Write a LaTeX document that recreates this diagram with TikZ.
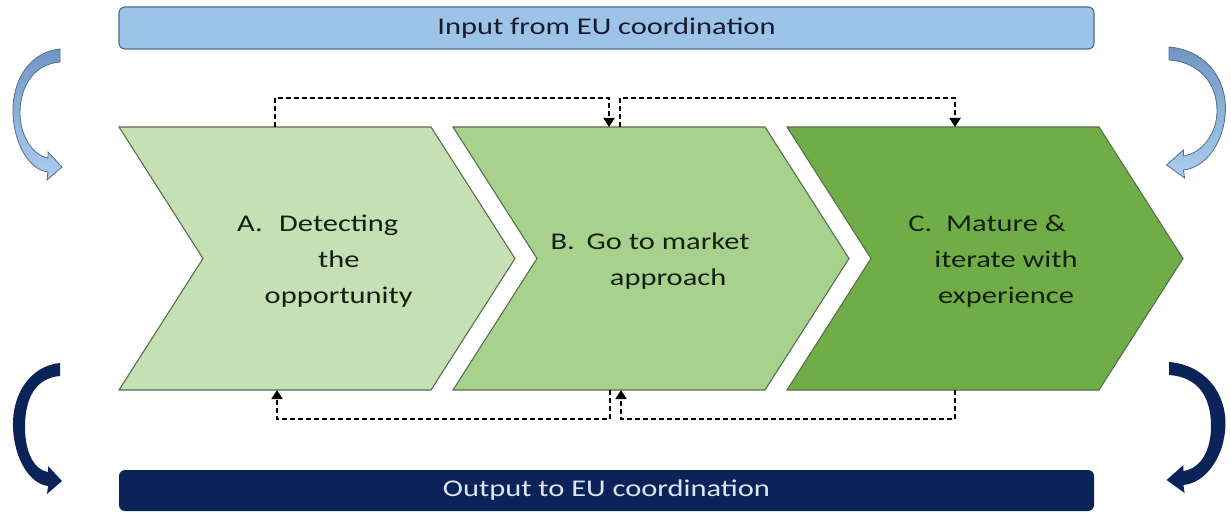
\documentclass[tikz,border=0pt]{standalone}
\usepackage{fontspec}
\setmainfont{Carlito}[FakeStretch=1.27]
\usetikzlibrary{arrows.meta}
\definecolor{chA}{HTML}{C5E0B4}
\definecolor{chB}{HTML}{A9D18E}
\definecolor{chC}{HTML}{70AD47}
\definecolor{chline}{HTML}{56704C}
\definecolor{chtext}{HTML}{142010}
\definecolor{inblue}{HTML}{9DC3E6}
\definecolor{inline}{HTML}{4F6F8F}
\definecolor{intext}{HTML}{151C30}
\definecolor{navy}{HTML}{0B2359}
\definecolor{outtext}{HTML}{DCE6F2}
\definecolor{arrtop}{HTML}{7096C4}
\definecolor{arrbot}{HTML}{ADCDEF}
\newcommand\curvarr[2]{%
  \path[#1] (0,0) .. controls (-30,3) and (-48,31) .. (-47,64)
    .. controls (-46,96) and (-30,121) .. (-12,123) -- (-13,131) -- (2,118)
    -- (-12,103) -- (-12,109) .. controls (-28,106) and (#2,86) .. (#2,64)
    .. controls (#2,36) and (-25,15) .. (0,13) -- cycle;}
\tikzset{
  chevron/.style={fill=#1, draw=chline, line width=1.1pt, line join=miter},
  steptext/.style={text=chtext, font=\fontsize{24}{36}\selectfont, inner sep=0pt},
  barbox/.style={minimum width=975pt, rounded corners=6pt, inner sep=0pt, font=\fontsize{24}{30}\selectfont},
  conn/.style={line width=1.8pt, dash pattern=on 5pt off 3pt, -{Triangle[width=11pt,length=9pt]}},
  lightarr/.style={top color=arrtop, bottom color=arrbot, draw=inline, line width=0.8pt},
  darkarr/.style={fill=navy}
}
\begin{document}
\begin{tikzpicture}[x=1pt,y=-1pt]
\useasboundingbox (0,0) rectangle (1231,513);
% bars
\node[barbox, minimum height=42pt, fill=inblue, draw=inline, line width=1.2pt, text=intext] (inp) at (606.5,28) {Input from EU coordination};
\node[barbox, minimum height=41pt, fill=navy, text=outtext] (outp) at (606.5,490.5) {Output to EU coordination};
% chevrons
\draw[chevron=chA] (119,127) -- (431,127) -- (515,258.5) -- (431,390) -- (119,390) -- (203,258.5) -- cycle;
\draw[chevron=chB] (453,127) -- (765,127) -- (849,258.5) -- (765,390) -- (453,390) -- (537,258.5) -- cycle;
\draw[chevron=chC] (787,127) -- (1099,127) -- (1183,258.5) -- (1099,390) -- (787,390) -- (871,258.5) -- cycle;
% texts
\node[steptext] (A) at (325,260) {\begin{tabular}{@{}l@{\hspace{2pt}}c@{}}A. & Detecting\\ & the\\ & opportunity\end{tabular}};
\node[steptext] (B) at (650,260) {\begin{tabular}{@{}l@{\hspace{12pt}}c@{}}B. & Go to market\\ & approach\end{tabular}};
\node[steptext] (C) at (993,260) {\begin{tabular}{@{}l@{\hspace{2pt}}c@{}}C. & Mature \&\\ & iterate with\\ & experience\end{tabular}};
% connector ends
\coordinate (aT) at (275,127);
\coordinate (bTin) at (609,127);
\coordinate (bTout) at (620,127);
\coordinate (cT) at (955,127);
\coordinate (aB) at (277,390);
\coordinate (bBout) at (610,390);
\coordinate (bBin) at (621,390);
\coordinate (cB) at (955,390);
\draw[conn] (aT) -- ++(0,-29) -| (bTin);
\draw[conn] (bTout) -- ++(0,-29) -| (cT);
\draw[conn] (cB) -- ++(0,29) -| (bBin);
\draw[conn] (bBout) -- ++(0,29) -| (aB);
% curved arrows
\begin{scope}[shift={(60,49)}]\curvarr{lightarr}{-40}\end{scope}
\begin{scope}[shift={(1169,47)}, xscale=-1.2]\curvarr{lightarr}{-40}\end{scope}
\begin{scope}[shift={(60,363)}]\curvarr{darkarr}{-35}\end{scope}
\begin{scope}[shift={(1169,362)}, xscale=-1.2]\curvarr{darkarr}{-35}\end{scope}
\end{tikzpicture}
\end{document}
